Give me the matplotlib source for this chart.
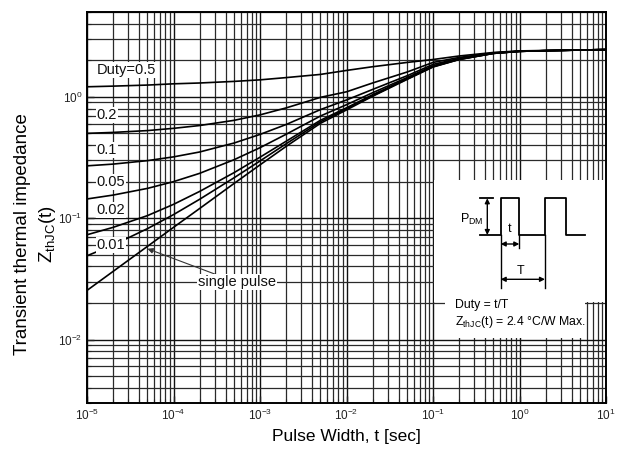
import numpy as np
import matplotlib
matplotlib.use('Agg')
import matplotlib.pyplot as plt
from matplotlib.patches import Rectangle

plt.rcParams['font.family'] = ['Liberation Sans', 'DejaVu Sans']
plt.rcParams['mathtext.fontset'] = 'custom'
plt.rcParams['mathtext.rm'] = 'Liberation Sans'
plt.rcParams['mathtext.it'] = 'Liberation Sans:italic'
plt.rcParams['mathtext.bf'] = 'Liberation Sans:bold'

# ---------------- data ----------------
pulse_width = [1e-5, 2e-5, 5e-5, 1e-4, 2e-4, 5e-4, 1e-3, 2e-3, 5e-3, 1e-2,
               2e-2, 5e-2, 1e-1, 2e-1, 5e-1, 1.0, 2.0, 5.0, 10.0]
z_duty_050 = [1.21, 1.225, 1.25, 1.28, 1.30, 1.34, 1.38, 1.44, 1.53, 1.65,
              1.77, 1.92, 2.03, 2.17, 2.32, 2.39, 2.41, 2.43, 2.45]
z_duty_020 = [0.500, 0.509, 0.527, 0.550, 0.580, 0.640, 0.710, 0.81, 0.99, 1.10,
              1.30, 1.60, 1.92, 2.11, 2.30, 2.38, 2.40, 2.43, 2.45]
z_duty_010 = [0.270, 0.279, 0.298, 0.320, 0.351, 0.416, 0.490, 0.591, 0.785, 0.942,
              1.15, 1.49, 1.85, 2.07, 2.29, 2.37, 2.40, 2.43, 2.45]
z_duty_005 = [0.144, 0.155, 0.176, 0.200, 0.234, 0.303, 0.381, 0.491, 0.695, 0.861,
              1.08, 1.44, 1.80, 2.05, 2.29, 2.37, 2.40, 2.43, 2.45]
z_duty_002 = [0.073, 0.084, 0.105, 0.130, 0.166, 0.237, 0.318, 0.430, 0.641, 0.812,
              1.04, 1.41, 1.78, 2.04, 2.28, 2.37, 2.40, 2.43, 2.45]
z_duty_001 = [0.049, 0.060, 0.082, 0.107, 0.143, 0.215, 0.296, 0.410, 0.623, 0.796,
              1.02, 1.40, 1.77, 2.03, 2.28, 2.37, 2.40, 2.43, 2.45]
z_single   = [0.0254, 0.0364, 0.0586, 0.084, 0.120, 0.193, 0.275, 0.390, 0.605, 0.78,
              1.01, 1.39, 1.76, 2.03, 2.28, 2.37, 2.40, 2.43, 2.45]

duty_labels = ['Duty=0.5', '0.2', '0.1', '0.05', '0.02', '0.01']
x_tick_values = [1e-5, 1e-4, 1e-3, 1e-2, 1e-1, 1e0, 1e1]
x_tick_labels = [r'$10^{-5}$', r'$10^{-4}$', r'$10^{-3}$', r'$10^{-2}$',
                 r'$10^{-1}$', r'$10^{0}$', r'$10^{1}$']
y_tick_values = [1e-2, 1e-1, 1e0]
y_tick_labels = [r'$10^{-2}$', r'$10^{-1}$', r'$10^{0}$']

# ---------------- figure ----------------
W, H = 626, 453
fig = plt.figure(figsize=(W / 100, H / 100), dpi=100)
AX_L, AX_R, AX_T, AX_B = 87, 606, 12, 403
ax = fig.add_axes([AX_L / W, 1 - AX_B / H, (AX_R - AX_L) / W, (AX_B - AX_T) / H])

ax.set_xscale('log')
ax.set_yscale('log')
ax.set_xlim(1e-5, 10)
ax.set_ylim(0.003, 5)

ax.set_axisbelow(True)
ax.grid(True, which='major', color='#111111', linewidth=1.0, zorder=0.5)
ax.grid(True, which='minor', color='#2a2a2a', linewidth=0.9, zorder=0.5)
ax.xaxis.set_minor_locator(matplotlib.ticker.LogLocator(base=10, subs=np.arange(2, 10), numticks=50))
ax.yaxis.set_minor_locator(matplotlib.ticker.LogLocator(base=10, subs=np.arange(2, 10), numticks=50))
ax.set_xticks(x_tick_values)
ax.set_xticklabels(x_tick_labels)
ax.set_yticks(y_tick_values)
ax.set_yticklabels(y_tick_labels)
ax.xaxis.set_minor_formatter(matplotlib.ticker.NullFormatter())
ax.yaxis.set_minor_formatter(matplotlib.ticker.NullFormatter())
ax.tick_params(which='both', direction='in', labelsize=8.5, colors='#222222')
ax.tick_params(which='major', length=5, width=1.0)
ax.tick_params(which='minor', length=3, width=0.8)
for s in ax.spines.values():
    s.set_linewidth(1.4)
    s.set_color('black')

# curves
series = [z_duty_050, z_duty_020, z_duty_010, z_duty_005, z_duty_002, z_duty_001, z_single]
for z in series:
    ax.plot(pulse_width, z, color='black', linewidth=1.2, zorder=3,
            solid_capstyle='round', solid_joinstyle='round')

# duty labels (white background)
label_x = 1.3e-5
label_y = [1.67, 0.71, 0.365, 0.198, 0.116, 0.0598]
wb = dict(facecolor='white', edgecolor='none', pad=0.6)
for lab, yy in zip(duty_labels, label_y):
    ax.text(label_x, yy, lab, fontsize=10.5, ha='left', va='center', bbox=wb, zorder=4,
            color='#111111')

ax.annotate('single pulse', xy=(5.0e-5, 0.056), xytext=(5.4e-4, 0.0296),
            fontsize=10.5, ha='center', va='center', color='#111111',
            bbox=wb, zorder=4,
            arrowprops=dict(arrowstyle='-|>', color='#333333', lw=0.8,
                            mutation_scale=8, shrinkA=0, shrinkB=0))

# inset white box
ax.add_patch(Rectangle((0.104, 0.0205), 10 - 0.104, 0.205 - 0.0205, facecolor='white',
                       edgecolor='none', zorder=1.5))
ax.add_patch(Rectangle((0.138, 0.0103), 5.7 - 0.138, 0.0205 - 0.0103, facecolor='white',
                       edgecolor='none', zorder=1.5))

def fx(px):
    return (px - AX_L) / (AX_R - AX_L)

def fy(py):
    return (AX_B - py) / (AX_B - AX_T)

tr = ax.transAxes
base, high = fy(235), fy(198.3)
wx = [fx(v) for v in [480, 500.7, 500.7, 519.3, 519.3, 545, 545, 565.7, 565.7, 585]]
wy = [base, base, high, high, base, base, high, high, base, base]
ax.plot(wx, wy, color='black', lw=1.3, transform=tr, zorder=5, clip_on=False)
ax.plot([fx(480), fx(493)], [high, high], color='black', lw=1.3, transform=tr, zorder=5)
# extension lines
ax.plot([fx(500.7), fx(500.7)], [base, fy(288)], color='black', lw=1.0, transform=tr, zorder=5)
ax.plot([fx(519.3), fx(519.3)], [base, fy(248)], color='black', lw=1.0, transform=tr, zorder=5)
ax.plot([fx(545), fx(545)], [base, fy(288)], color='black', lw=1.0, transform=tr, zorder=5)

arw = dict(arrowstyle='<|-|>', color='black', lw=1.0, mutation_scale=7, shrinkA=0, shrinkB=0)
ax.annotate('', xy=(fx(487.3), high), xytext=(fx(487.3), base), xycoords=tr,
            textcoords=tr, arrowprops=arw, zorder=5)
ax.annotate('', xy=(fx(500.7), fy(244)), xytext=(fx(519.3), fy(244)), xycoords=tr,
            textcoords=tr, arrowprops=arw, zorder=5)
ax.annotate('', xy=(fx(500.7), fy(279.3)), xytext=(fx(545), fy(279.3)), xycoords=tr,
            textcoords=tr, arrowprops=arw, zorder=5)

ax.text(fx(483), fy(219), r'P$_{\rm DM}$', transform=tr, ha='right', va='center',
        fontsize=9, zorder=5)
ax.text(fx(510), fy(229), 't', transform=tr, ha='center', va='center', fontsize=9, zorder=5)
ax.text(fx(521), fy(271), 'T', transform=tr, ha='center', va='center', fontsize=9, zorder=5)
ax.text(fx(455), fy(305), 'Duty = t/T', transform=tr, ha='left', va='center',
        fontsize=8.8, zorder=5)
ax.text(fx(455), fy(322), r'Z$_{\rm thJC}$(t) = 2.4 °C/W Max.', transform=tr, ha='left',
        va='center', fontsize=8.8, zorder=5)

# axis labels
fig.text(22.5 / W, 1 - 234 / H, 'Transient thermal impedance', rotation=90,
         ha='center', va='center', fontsize=13.5)
fig.text(47 / W, 1 - 234 / H, r'Z$_{\rm thJC}$(t)', rotation=90,
         ha='center', va='center', fontsize=13.5)
fig.text((AX_L + AX_R) / 2 / W, 1 - 437 / H, 'Pulse Width, t [sec]',
         ha='center', va='center', fontsize=12.5)

fig.savefig('out.png', dpi=100, facecolor='white')
